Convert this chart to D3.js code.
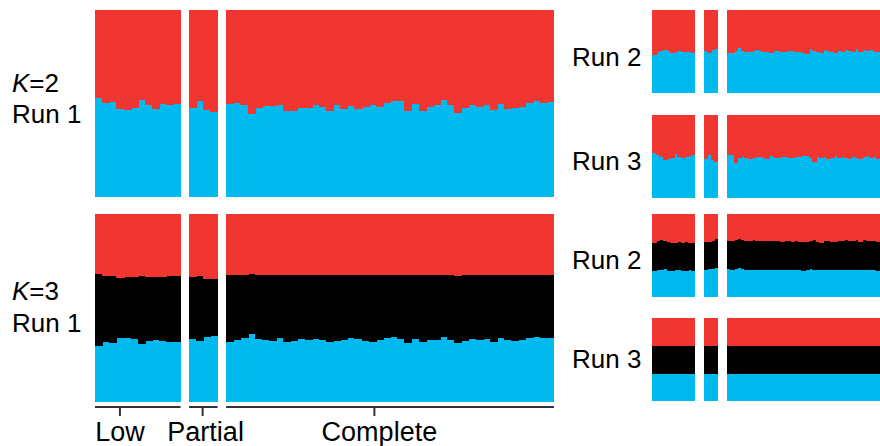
<!DOCTYPE html>
<html>
<head>
<meta charset="utf-8">
<script src="https://cdn.jsdelivr.net/npm/d3@7"></script>
<style>
  body { margin: 0; background: #fff; }
  text { font-family: "Liberation Sans", Arial, sans-serif; fill: #000; }
</style>
</head>
<body>
<script>
// groups of individuals
var groups = ["Low", "Partial", "Complete"],
    groupSizes = [12, 4, 46],
    tickIndex = [3.5, 1.9, 20.8]; // tick position inside each group, in bars

// K=2 : blue share (red = rest)
var k2run1Blue = [0.528,0.501,0.506,0.471,0.465,0.478,0.520,0.490,0.471,0.497,0.490,0.497,
  0.478,0.512,0.465,0.456,
  0.497,0.504,0.492,0.444,0.476,0.488,0.485,0.490,0.458,0.458,0.476,0.476,0.490,0.483,0.458,0.490,
  0.471,0.485,0.472,0.480,0.490,0.483,0.504,0.512,0.512,0.458,0.497,0.458,0.480,0.490,0.519,0.490,
  0.447,0.476,0.490,0.483,0.490,0.465,0.497,0.472,0.476,0.480,0.504,0.512,0.501,0.506];
var k2run2Blue = [0.458,0.490,0.510,0.518,0.506,0.478,0.498,0.506,0.498,0.494,0.490,0.486,
  0.510,0.486,0.518,0.530,
  0.486,0.486,0.506,0.542,0.506,0.494,0.498,0.510,0.518,0.510,0.498,0.490,0.486,0.506,0.510,0.498,
  0.490,0.506,0.510,0.498,0.494,0.486,0.474,0.530,0.506,0.494,0.486,0.518,0.502,0.494,0.482,0.510,
  0.498,0.522,0.506,0.498,0.526,0.490,0.522,0.502,0.514,0.498,0.490,0.494,0.482,0.486];
var k2run3Blue = [0.538,0.518,0.498,0.458,0.466,0.478,0.530,0.490,0.478,0.498,0.510,0.518,
  0.466,0.518,0.458,0.438,
  0.514,0.518,0.418,0.478,0.494,0.486,0.474,0.478,0.490,0.498,0.478,0.470,0.506,0.486,0.478,0.498,
  0.490,0.482,0.486,0.490,0.494,0.502,0.510,0.478,0.438,0.490,0.482,0.498,0.470,0.486,0.506,0.478,
  0.490,0.486,0.470,0.498,0.482,0.474,0.490,0.506,0.482,0.494,0.470,0.486,0.498,0.510];

// K=3 : blue and black shares (red = rest)
var k3run1Blue = [0.299,0.319,0.316,0.340,0.342,0.335,0.309,0.323,0.331,0.326,0.321,0.321,
  0.337,0.323,0.344,0.351,
  0.321,0.328,0.343,0.362,0.335,0.330,0.326,0.338,0.318,0.322,0.333,0.329,0.336,0.331,0.317,0.325,
  0.329,0.340,0.333,0.327,0.321,0.330,0.338,0.344,0.337,0.316,0.334,0.320,0.328,0.331,0.345,0.330,
  0.312,0.327,0.333,0.329,0.335,0.320,0.338,0.328,0.326,0.330,0.341,0.346,0.338,0.340];
var k3run1Black = [0.380,0.353,0.355,0.319,0.323,0.330,0.363,0.342,0.334,0.340,0.351,0.351,
  0.330,0.349,0.312,0.305,
  0.352,0.345,0.333,0.318,0.340,0.345,0.350,0.338,0.355,0.352,0.340,0.344,0.338,0.342,0.356,0.348,
  0.344,0.333,0.340,0.346,0.352,0.343,0.336,0.330,0.337,0.358,0.340,0.354,0.345,0.342,0.328,0.343,
  0.360,0.346,0.340,0.344,0.338,0.353,0.335,0.345,0.347,0.343,0.332,0.327,0.335,0.333];
var k3run2Blue = [0.313,0.325,0.325,0.334,0.317,0.317,0.325,0.325,0.317,0.317,0.322,0.317,
  0.325,0.334,0.334,0.346,
  0.334,0.325,0.334,0.346,0.334,0.325,0.329,0.325,0.329,0.321,0.325,0.329,0.325,0.329,0.321,0.325,
  0.325,0.329,0.321,0.325,0.321,0.317,0.325,0.334,0.329,0.325,0.325,0.321,0.329,0.325,0.321,0.325,
  0.329,0.321,0.325,0.329,0.321,0.325,0.321,0.325,0.329,0.321,0.317,0.325,0.321,0.325];
var k3run2Black = [0.334,0.353,0.361,0.341,0.346,0.337,0.322,0.341,0.337,0.346,0.333,0.337,
  0.341,0.333,0.345,0.349,
  0.337,0.345,0.349,0.349,0.353,0.345,0.341,0.361,0.345,0.349,0.349,0.341,0.353,0.345,0.349,0.341,
  0.345,0.341,0.337,0.345,0.341,0.349,0.337,0.345,0.361,0.341,0.329,0.357,0.345,0.341,0.337,0.349,
  0.341,0.361,0.345,0.341,0.361,0.337,0.361,0.349,0.341,0.357,0.345,0.341,0.349,0.341];
var k3run3Blue = [0.325,0.329,0.325,0.325,0.321,0.325,0.329,0.325,0.325,0.321,0.325,0.325,
  0.325,0.325,0.329,0.325,
  0.329,0.325,0.325,0.321,0.325,0.329,0.325,0.325,0.321,0.325,0.329,0.325,0.325,0.325,0.321,0.325,
  0.329,0.325,0.325,0.325,0.321,0.325,0.325,0.329,0.325,0.325,0.321,0.325,0.325,0.329,0.325,0.321,
  0.325,0.325,0.329,0.325,0.325,0.321,0.325,0.325,0.329,0.325,0.325,0.321,0.325,0.325];
var k3run3Black = [0.337,0.333,0.341,0.337,0.341,0.337,0.333,0.337,0.341,0.337,0.333,0.337,
  0.341,0.337,0.333,0.337,
  0.333,0.337,0.341,0.337,0.337,0.333,0.337,0.341,0.337,0.337,0.333,0.341,0.337,0.337,0.341,0.333,
  0.337,0.337,0.341,0.337,0.337,0.333,0.341,0.337,0.337,0.341,0.337,0.333,0.337,0.337,0.341,0.337,
  0.337,0.333,0.337,0.341,0.337,0.337,0.341,0.333,0.337,0.337,0.341,0.337,0.333,0.337];

var colors = { blue: "#00b9ef", black: "#000000", red: "#f13530" };

var w = 880, h = 446;
var svg = d3.select("body").append("svg")
    .attr("width", w)
    .attr("height", h);

// big panels on the left, small ones on the right
var leftX = [95, 554], leftGap = 1.2,
    rightX = [652.3, 890.5], rightGap = 2.44;

var panels = [
  { blue: k2run1Blue, black: null, xr: leftX, gap: leftGap, y0: 10, y1: 197 },
  { blue: k3run1Blue, black: k3run1Black, xr: leftX, gap: leftGap, y0: 214, y1: 402 },
  { blue: k2run2Blue, black: null, xr: rightX, gap: rightGap, y0: 10, y1: 93 },
  { blue: k2run3Blue, black: null, xr: rightX, gap: rightGap, y0: 115, y1: 198 },
  { blue: k3run2Blue, black: k3run2Black, xr: rightX, gap: rightGap, y0: 214, y1: 297 },
  { blue: k3run3Blue, black: k3run3Black, xr: rightX, gap: rightGap, y0: 318, y1: 401 }
];

var nBars = d3.sum(groupSizes);

// bar index -> group index
function groupOf(i) {
  var acc = 0;
  for (var g = 0; g < groupSizes.length; g++) {
    acc += groupSizes[g];
    if (i < acc) return g;
  }
  return groupSizes.length - 1;
}
function groupStart(g) {
  return d3.sum(groupSizes.slice(0, g));
}
function isLast(i) {
  var g = groupOf(i);
  return i === groupStart(g) + groupSizes[g] - 1;
}

var stack = d3.stack().keys(["blue", "black", "red"]);

panels.forEach(function(p) {
  var x = d3.scaleLinear()
      .domain([0, nBars + p.gap * (groups.length - 1)])
      .range(p.xr);
  var y = d3.scaleLinear().domain([0, 1]).range([p.y1, p.y0]);
  var pos = function(i) { return i + groupOf(i) * p.gap; };
  var bw = x(1) - x(0);

  var rows = p.blue.map(function(b, i) {
    var k = p.black ? p.black[i] : 0;
    return { i: i, blue: b, black: k, red: 1 - b - k };
  });
  var series = stack(rows);

  var g = svg.append("g").attr("shape-rendering", "crispEdges");
  g.selectAll("g.layer")
    .data(series)
    .enter().append("g")
      .attr("class", "layer")
      .attr("fill", function(d) { return colors[d.key]; })
    .selectAll("rect")
    .data(function(d) { return d; })
    .enter().append("rect")
      .attr("x", function(d) { return x(pos(d.data.i)); })
      .attr("width", function(d) { return isLast(d.data.i) ? bw : bw + 1; })
      .attr("y", function(d) { return y(d[1]); })
      .attr("height", function(d) { return Math.max(0, y(d[0]) - y(d[1])); });

  p.x = x; p.pos = pos;
});

// group axis under the big panels
var base = panels[1], axisY = 407;
var labelShift = [0, 3, 5]; // labels sit a little right of their ticks
var axis = svg.append("g").attr("stroke", "#333");
groups.forEach(function(name, gi) {
  var s = groupStart(gi), e = s + groupSizes[gi];
  var xs = base.x(base.pos(s)), xe = base.x(base.pos(e - 1) + 1);
  var xt = base.x(base.pos(s) + tickIndex[gi]);
  axis.append("line")
    .attr("x1", xs).attr("x2", xe)
    .attr("y1", axisY).attr("y2", axisY)
    .attr("stroke-width", 2);
  axis.append("line")
    .attr("x1", xt).attr("x2", xt)
    .attr("y1", axisY).attr("y2", axisY + 9)
    .attr("stroke-width", 2);
  svg.append("text")
    .attr("x", xt + labelShift[gi]).attr("y", 441)
    .attr("text-anchor", "middle")
    .attr("font-size", 27)
    .text(name);
});

// row labels
function kLabel(xp, yp, k) {
  var t = svg.append("text").attr("x", xp).attr("y", yp).attr("font-size", 26);
  t.append("tspan").attr("font-style", "italic").text("K");
  t.append("tspan").text("=" + k);
}
function runLabel(xp, yp, txt) {
  svg.append("text").attr("x", xp).attr("y", yp).attr("font-size", 26).text(txt);
}
kLabel(12, 92, 2);
runLabel(12, 123, "Run 1");
kLabel(12, 300, 3);
runLabel(12, 332, "Run 1");
runLabel(572, 66, "Run 2");
runLabel(572, 170, "Run 3");
runLabel(572, 269, "Run 2");
runLabel(572, 368, "Run 3");
</script>
</body>
</html>
